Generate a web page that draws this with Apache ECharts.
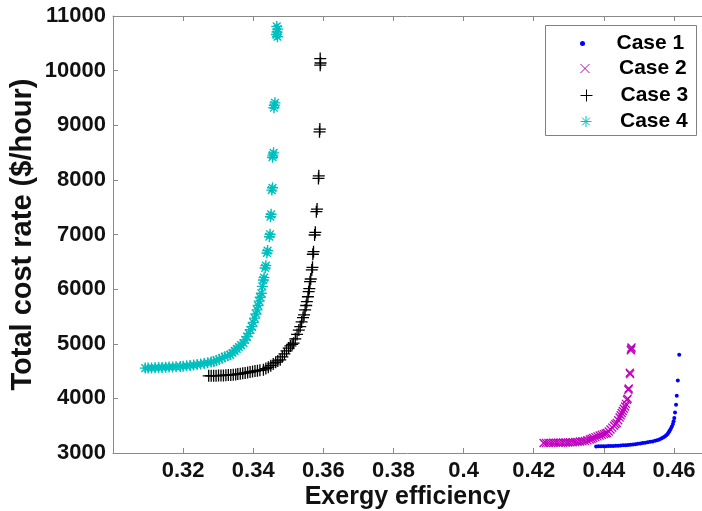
<!DOCTYPE html>
<html>
<head>
<meta charset="utf-8">
<script src="https://cdn.jsdelivr.net/npm/echarts@6/dist/echarts.min.js"></script>
<style>
html,body{margin:0;padding:0;background:#fff;}
#chart{width:702px;height:511px;}
</style>
</head>
<body>
<div id="chart"></div>
<script>
// ---- data ----
const seriesNames = ['Case 1', 'Case 2', 'Case 3', 'Case 4'];
const xTickLabels = ['0.32','0.34','0.36','0.38','0.4','0.42','0.44','0.46'];
const yTickLabels = ['3000','4000','5000','6000','7000','8000','9000','10000','11000'];

const case1 = [[0.4378,3121],[0.4385,3122],[0.4392,3123],[0.4399,3124],[0.4406,3125],[0.4413,3127],[0.4420,3128],[0.4427,3130],[0.4434,3132],[0.4441,3134],[0.4448,3137],[0.4455,3140],[0.4462,3144],[0.4469,3148],[0.4476,3152],[0.4483,3157],[0.4490,3162],[0.4497,3168],[0.4504,3174],[0.4511,3181],[0.4518,3188],[0.4525,3196],[0.4532,3204],[0.4539,3212],[0.4546,3222],[0.4552,3234],[0.4558,3248],[0.4564,3264],[0.4569,3282],[0.4574,3304],[0.4578,3325],[0.4582,3350],[0.4585,3378],[0.4588,3410],[0.4591,3445],[0.4594,3486],[0.4597,3530],[0.4599,3580],[0.4601,3640],[0.4603,3742],[0.4606,3883],[0.4608,4048],[0.4611,4327],[0.4615,4797]];

const case2 = [[0.4228,3183],[0.4235,3184],[0.4242,3185],[0.4249,3186],[0.4256,3187],[0.4263,3188],[0.4270,3189],[0.4277,3190],[0.4284,3191],[0.4291,3192],[0.4298,3193],[0.4304,3194],[0.4311,3197],[0.4318,3200],[0.4325,3204],[0.4332,3209],[0.4339,3215],[0.4346,3222],[0.4353,3233],[0.4360,3246],[0.4365,3260],[0.4370,3274],[0.4376,3290],[0.4382,3305],[0.4388,3320],[0.4394,3335],[0.4400,3346],[0.4405,3356],[0.4409,3366],[0.4414,3395],[0.4419,3430],[0.4424,3465],[0.4429,3500],[0.4433,3525],[0.4437,3549],[0.4441,3600],[0.4445,3650],[0.4448,3690],[0.4451,3731],[0.4454,3770],[0.4457,3810],[0.4461,3852],[0.4463,3900],[0.4466,3974],[0.4468,3995],[0.4470,4157],[0.4471,4180],[0.4475,4444],[0.4474,4470],[0.4477,4880],[0.4479,4930],[0.4478,4907]];

const case3 = [[0.3273,4413],[0.3280,4414],[0.3287,4415],[0.3294,4416],[0.3301,4417],[0.3308,4419],[0.3315,4421],[0.3322,4423],[0.3329,4426],[0.3336,4429],[0.3343,4433],[0.3350,4438],[0.3356,4444],[0.3363,4450],[0.3370,4458],[0.3377,4466],[0.3384,4474],[0.3391,4483],[0.3398,4492],[0.3405,4500],[0.3412,4508],[0.3419,4515],[0.3429,4523],[0.3436,4545],[0.3443,4570],[0.3450,4598],[0.3457,4630],[0.3464,4660],[0.3470,4685],[0.3477,4706],[0.3483,4760],[0.3489,4815],[0.3495,4870],[0.3501,4920],[0.3506,4960],[0.3511,4990],[0.3515,5011],[0.3520,5090],[0.3525,5170],[0.3530,5250],[0.3534,5314],[0.3538,5400],[0.3542,5480],[0.3545,5528],[0.3548,5620],[0.3551,5700],[0.3553,5771],[0.3556,5860],[0.3558,5954],[0.3560,6010],[0.3562,6137],[0.3564,6185],[0.3567,6351],[0.3569,6400],[0.3570,6638],[0.3572,6685],[0.3575,6991],[0.3577,7040],[0.3580,7417],[0.3582,7465],[0.3586,8027],[0.3587,8075],[0.3589,8879],[0.3590,8930],[0.3591,10099],[0.3592,10140],[0.3591,10221]];

const case4 = [[0.3092,4554],[0.3100,4556],[0.3110,4558],[0.3120,4561],[0.3130,4564],[0.3140,4567],[0.3150,4570],[0.3160,4573],[0.3170,4576],[0.3180,4579],[0.3192,4583],[0.3200,4588],[0.3210,4595],[0.3220,4602],[0.3230,4610],[0.3240,4619],[0.3250,4629],[0.3260,4640],[0.3270,4652],[0.3280,4665],[0.3287,4675],[0.3295,4695],[0.3303,4715],[0.3311,4738],[0.3319,4762],[0.3327,4780],[0.3334,4797],[0.3341,4835],[0.3347,4870],[0.3353,4905],[0.3359,4940],[0.3365,4975],[0.3372,5011],[0.3377,5070],[0.3382,5130],[0.3387,5190],[0.3392,5255],[0.3396,5314],[0.3400,5390],[0.3404,5470],[0.3408,5545],[0.3411,5620],[0.3414,5700],[0.3417,5780],[0.3420,5850],[0.3423,5925],[0.3426,6050],[0.3429,6168],[0.3431,6210],[0.3434,6388],[0.3436,6430],[0.3439,6662],[0.3441,6705],[0.3446,6960],[0.3448,7005],[0.3449,7325],[0.3451,7370],[0.3453,7813],[0.3455,7855],[0.3456,8453],[0.3458,8495],[0.3455,8415],[0.3460,9367],[0.3459,9320],[0.3462,9410],[0.3468,10707],[0.3466,10660],[0.3470,10760],[0.3467,10810],[0.3469,10620]];

// ---- styles ----
const FONT = 'Liberation Sans';
const colors = ['#0000ff', '#bf00bf', '#000000', '#00bfbf'];
const symX = 'path://M0,0L10,10M10,0L0,10';
const symPlus = 'path://M5,0L5,10M0,5L10,5';
const symStar = 'path://M5,0L5,10M0,5L10,5M1.5,1.5L8.5,8.5M8.5,1.5L1.5,8.5';
const symbols = ['circle', symX, symPlus, symStar];
const sizes = [4, 8, 12, 11];
const strokeW = [0, 1.3, 1.3, 1.4];
const datasets = [case1, case2, case3, case4];

const chart = echarts.init(document.getElementById('chart'), null, {renderer: 'canvas'});

const series = datasets.map((d, i) => ({
  name: seriesNames[i],
  type: 'scatter',
  data: d,
  symbol: symbols[i],
  symbolSize: sizes[i],
  itemStyle: i === 0
    ? {color: colors[i], opacity: 1}
    : {color: 'rgba(0,0,0,0)', borderColor: colors[i], borderWidth: strokeW[i], opacity: 1},
  emphasis: {disabled: true},
  animation: false
}));

const legendTops = [45, 70, 97, 123];
const legendSizes = [5, 9, 12, 11];
const legends = seriesNames.map((n, i) => ({
  data: [{name: n, icon: symbols[i],
          itemStyle: i === 0 ? {color: colors[i]} : {color: 'rgba(0,0,0,0)', borderColor: colors[i], borderWidth: 1}}],
  left: 580,
  top: legendTops[i] - 12,
  padding: 0,
  itemWidth: 58,
  itemHeight: legendSizes[i],
  height: 24,
  symbolKeepAspect: true,
  selectedMode: false,
  textStyle: {fontFamily: FONT, fontWeight: 'bold', fontSize: 21, color: '#000'},
  z: 10
}));

const axisLineStyle = {color: '#8a8a8a', width: 1};

function xFmt(v) {
  if (Math.abs(v - 0.30) < 1e-6) return '';
  const r = Math.round(v * 100) / 100;
  if (Math.abs(v - r) > 1e-6) return '';
  const s = String(r);
  return xTickLabels.indexOf(s) >= 0 ? s : '';
}
function yFmt(v) {
  const s = String(Math.round(v));
  return yTickLabels.indexOf(s) >= 0 ? s : '';
}

const option = {
  backgroundColor: '#fff',
  animation: false,
  grid: {left: 113, top: 16, right: 0, bottom: 58, containLabel: false, outerBoundsMode: 'none'},
  xAxis: [{
    type: 'value', min: 0.30, max: 0.468, interval: 0.02, position: 'bottom',
    axisLine: {show: true, lineStyle: axisLineStyle},
    axisTick: {show: true, inside: true, length: 5, lineStyle: axisLineStyle},
    axisLabel: {formatter: xFmt, margin: 7, fontFamily: FONT, fontWeight: 'bold', fontSize: 22, color: '#111'},
    splitLine: {show: false},
    name: 'Exergy efficiency', nameLocation: 'middle', nameGap: 32, nameMoveOverlap: false,
    nameTextStyle: {fontFamily: FONT, fontWeight: 'bold', fontSize: 25, color: '#111'}
  }, {
    type: 'value', min: 0.30, max: 0.468, interval: 0.02, position: 'top',
    axisLine: {show: true, lineStyle: axisLineStyle},
    axisTick: {show: true, inside: true, length: 5, lineStyle: axisLineStyle},
    axisLabel: {show: false},
    splitLine: {show: false}
  }],
  yAxis: [{
    type: 'value', min: 3000, max: 11000, interval: 1000,
    axisLine: {show: true, lineStyle: axisLineStyle},
    axisTick: {show: true, inside: true, length: 5, lineStyle: axisLineStyle},
    axisLabel: {formatter: yFmt, margin: 7, fontFamily: FONT, fontWeight: 'bold', fontSize: 22, color: '#111'},
    splitLine: {show: false},
    name: 'Total cost rate ($/hour)', nameLocation: 'middle', nameGap: 76, nameMoveOverlap: false,
    nameTextStyle: {fontFamily: FONT, fontWeight: 'bold', fontSize: 29, color: '#111'}
  }],
  legend: legends,
  graphic: [{
    type: 'rect', left: 545, top: 25, z: 5,
    shape: {width: 151, height: 110},
    style: {fill: '#fff', stroke: '#808080', lineWidth: 1}
  }],
  series: series
};
chart.setOption(option);
</script>
</body>
</html>
